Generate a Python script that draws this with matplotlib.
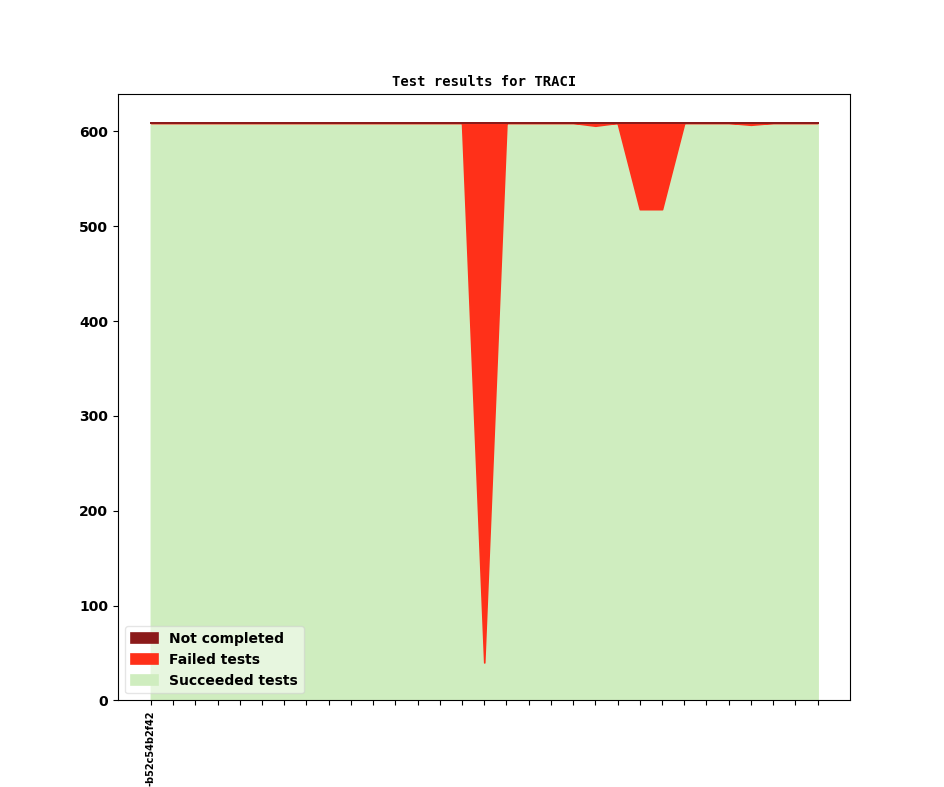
import numpy as np
import matplotlib
matplotlib.use("Agg")
import matplotlib.pyplot as plt

# test results per commit (31 runs, only the first commit hash is labelled)
commits = ["-b52c54b2f42"] + [""] * 30
succeeded = [609, 609, 609, 609, 609, 609, 609, 609, 609, 609,
             609, 609, 609, 609, 609, 40, 609, 609, 609, 609,
             606, 609, 518, 518, 609, 609, 609, 607, 609, 609, 609]
failed = [0, 0, 0, 0, 0, 0, 0, 0, 0, 0,
          0, 0, 0, 0, 0, 569, 0, 0, 0, 0,
          3, 0, 91, 91, 0, 0, 0, 2, 0, 0, 0]
not_completed = [0] * 31

x = np.arange(len(commits))

plt.rcParams['font.weight'] = 'bold'

fig, ax = plt.subplots(figsize=(9.44, 7.87), dpi=100)
ax.stackplot(x, succeeded, failed, not_completed,
             colors=['#cfedbf', '#ff3019', '#8b1a1a'],
             labels=['Succeeded tests', 'Failed tests', 'Not completed'],
             edgecolor='face', linewidth=1.2)

ax.set_title('Test results for TRACI', family='DejaVu Sans Mono',
             fontweight='bold', fontsize=10)
ax.set_xticks(x)
ax.set_xticklabels(commits, rotation=90, fontsize=7, fontweight='bold')
ax.set_xlim(-1.48, 31.44)
ax.set_ylim(0, 639)
for lab in ax.get_yticklabels():
    lab.set_fontweight('bold')

handles, labels = ax.get_legend_handles_labels()
ax.legend(handles[::-1], labels[::-1], loc='lower left', framealpha=0.5,
          prop={'weight': 'bold', 'size': 10})

plt.savefig('out.png', dpi=100)
